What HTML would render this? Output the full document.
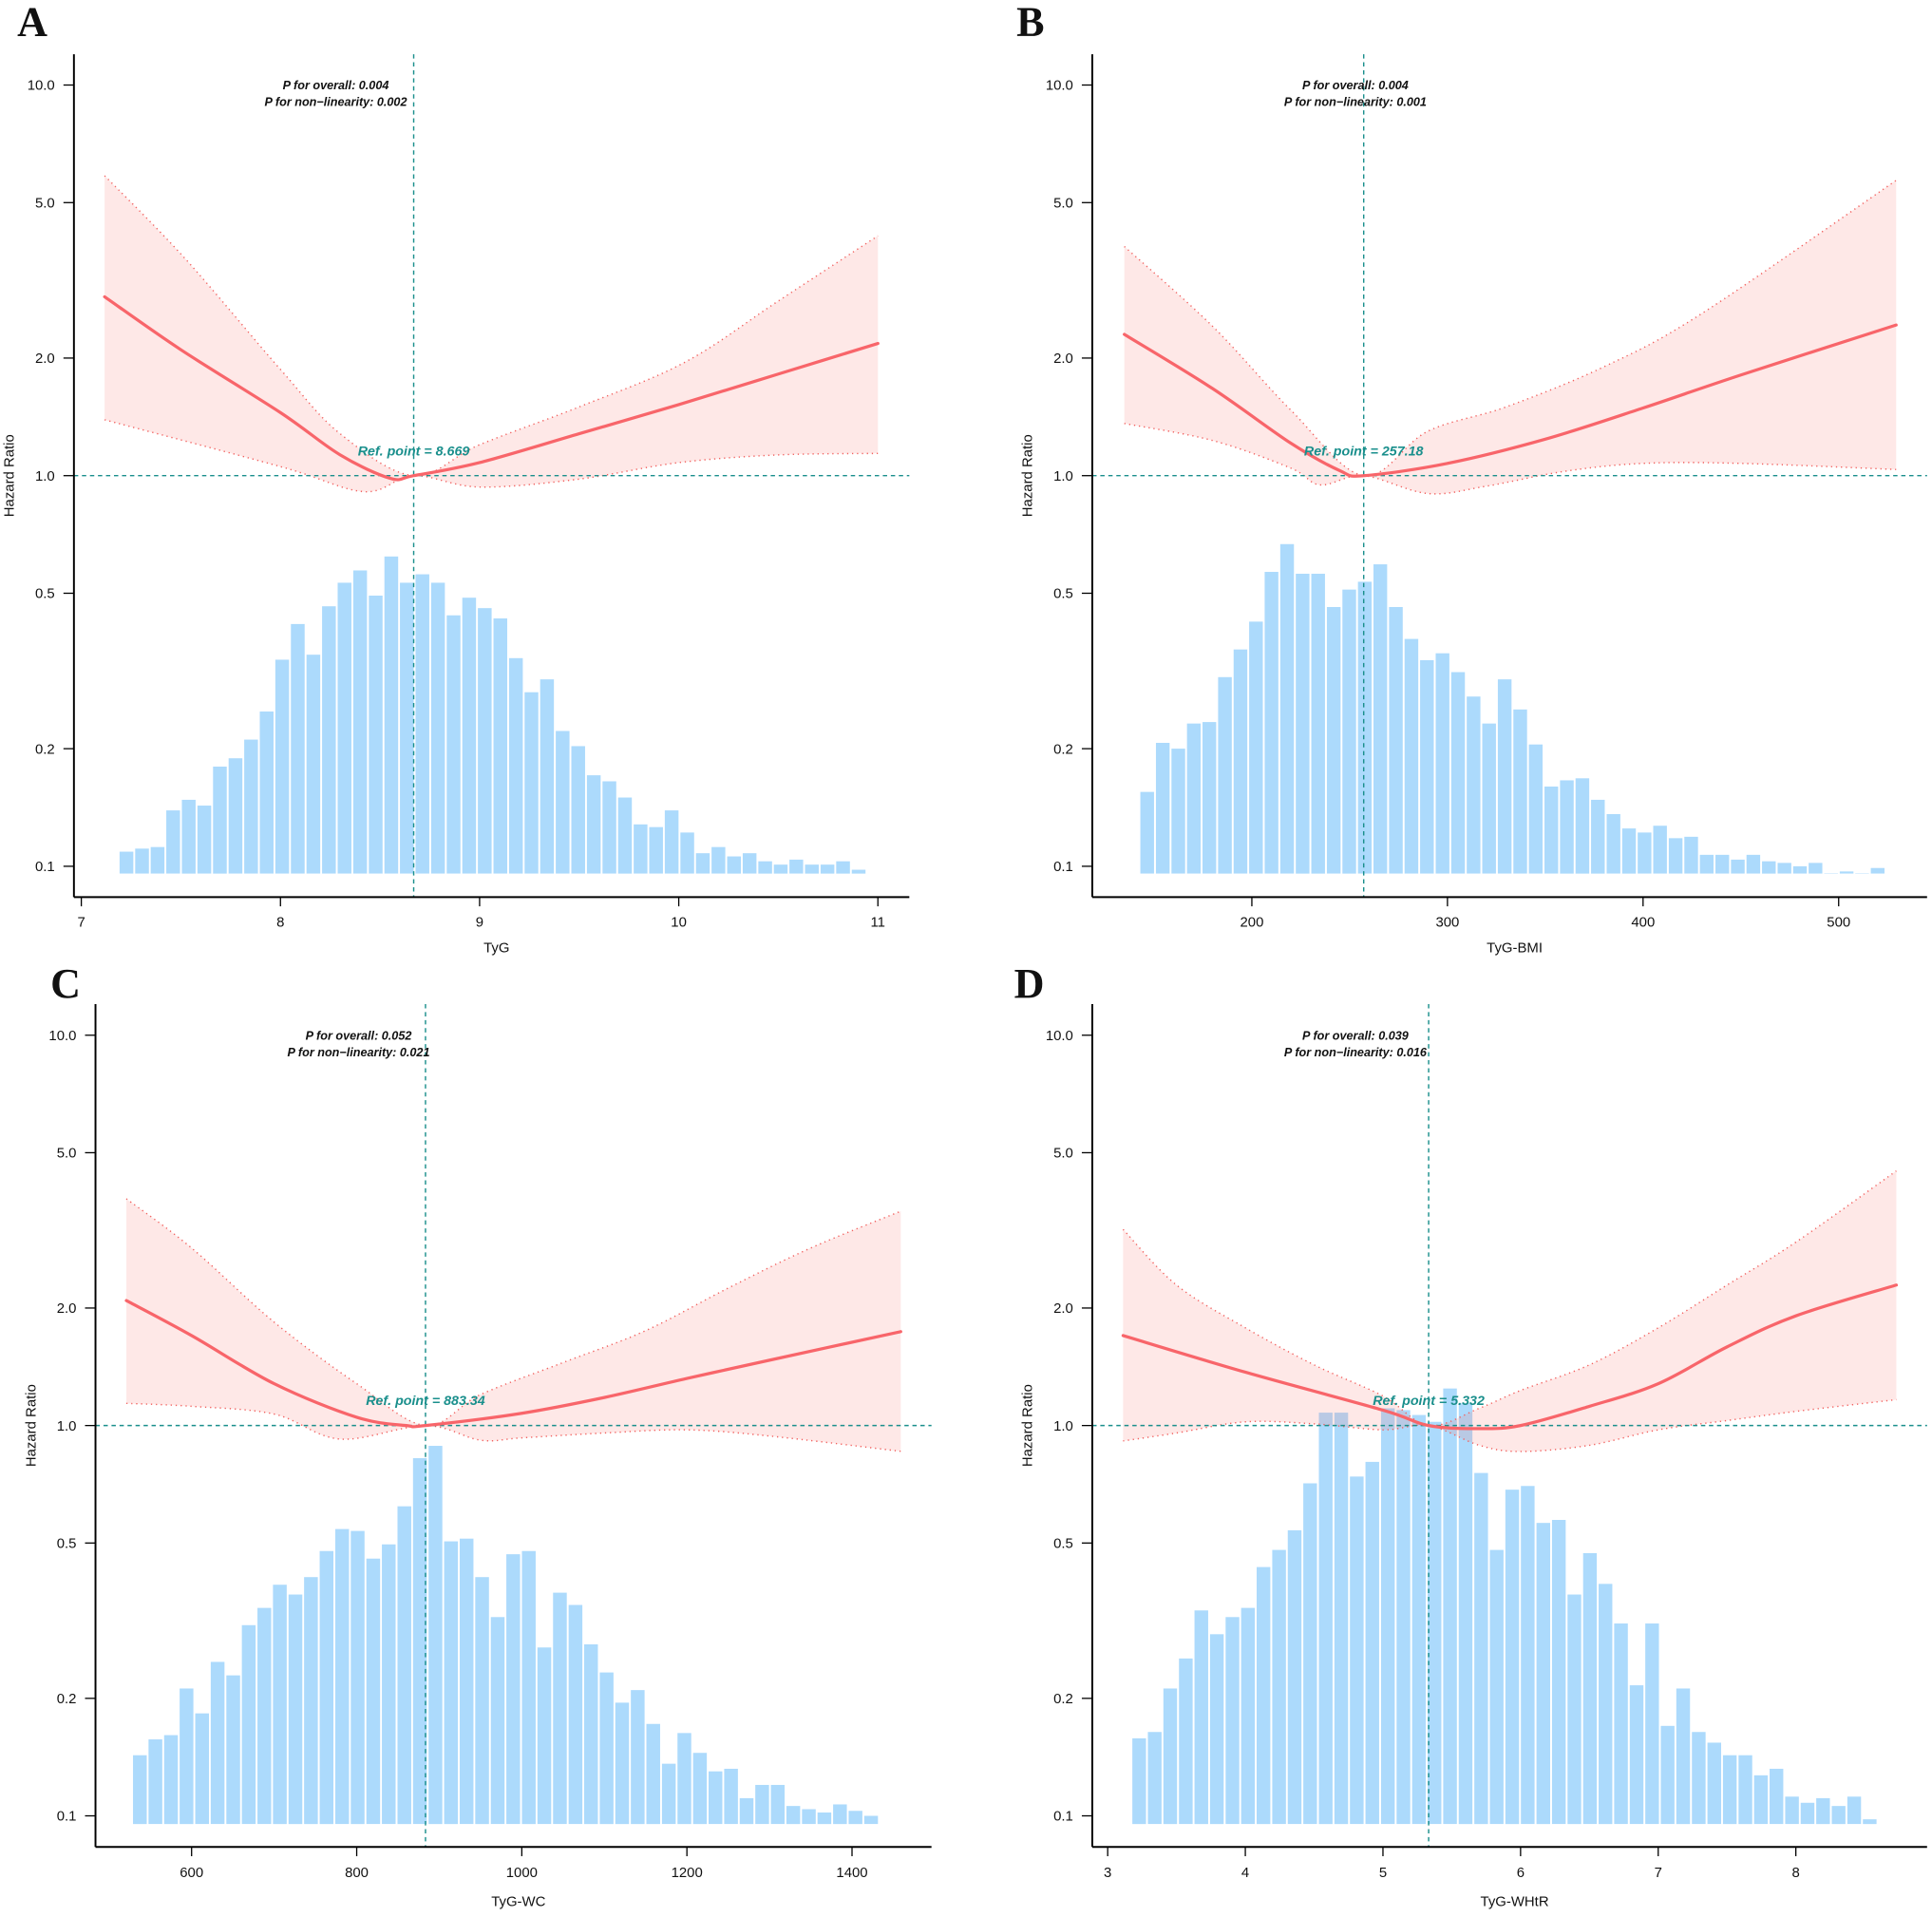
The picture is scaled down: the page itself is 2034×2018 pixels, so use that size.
<!DOCTYPE html>
<html><head><meta charset="utf-8"><style>
html,body{margin:0;padding:0;background:#fff}
svg{display:block}
text{font-family:"Liberation Sans",Arial,sans-serif}
text.letter{font-family:"Liberation Serif","DejaVu Serif",serif;font-weight:bold}
</style></head><body>
<svg id="fig" width="2034" height="2018" viewBox="0 0 2034 2018" xmlns="http://www.w3.org/2000/svg"></svg>
<script>
// ---- Panel A (TyG) ----
const aCurveX = [7.117, 7.5, 8.0, 8.3, 8.55, 8.669, 9.0, 9.5, 10.0, 10.5, 11.0];
const aCurveHR = [2.87, 2.1, 1.45, 1.13, 0.985, 1.0, 1.08, 1.28, 1.52, 1.82, 2.18];
const aUpperX = [7.117, 7.52, 8.0, 8.3, 8.669, 9.0, 9.5, 10.03, 10.5, 11.0];
const aUpperHR = [5.86, 3.6, 1.87, 1.28, 1.0, 1.2, 1.5, 1.95, 2.8, 4.11];
const aLowerX = [7.117, 8.0, 8.42, 8.669, 9.0, 9.5, 10.0, 10.5, 11.0];
const aLowerHR = [1.39, 1.055, 0.91, 1.0, 0.935, 0.98, 1.08, 1.13, 1.14];
const aBars = [0.109,0.111,0.112,0.139,0.148,0.143,0.180,0.189,0.211,0.249,0.338,0.417,0.348,0.463,0.532,0.572,0.493,0.621,0.532,0.559,0.532,0.439,0.487,0.458,0.431,0.341,0.279,0.301,0.222,0.203,0.171,0.165,0.150,0.128,0.126,0.139,0.122,0.108,0.112,0.106,0.108,0.103,0.101,0.104,0.101,0.101,0.103,0.098];
const aXTicks = [7, 8, 9, 10, 11];
// ---- Panel B (TyG-BMI) ----
const bCurveX = [134.8, 180, 220, 245, 257.18, 300, 350, 400, 450, 529.4];
const bCurveHR = [2.30, 1.67, 1.21, 1.03, 1.0, 1.075, 1.24, 1.49, 1.81, 2.43];
const bUpperX = [134.8, 180, 220, 257.18, 290, 330, 380, 430, 529.4];
const bUpperHR = [3.86, 2.41, 1.47, 1.0, 1.3, 1.5, 1.9, 2.6, 5.7];
const bLowerX = [134.8, 180, 220, 235, 257.18, 290, 320, 360, 400, 450, 529.4];
const bLowerHR = [1.36, 1.23, 1.045, 0.947, 1.0, 0.90, 0.94, 1.026, 1.075, 1.075, 1.037];
const bBars = [0.155,0.207,0.200,0.232,0.234,0.305,0.359,0.423,0.567,0.668,0.561,0.561,0.461,0.511,0.535,0.593,0.461,0.382,0.337,0.351,0.314,0.272,0.232,0.301,0.252,0.205,0.160,0.166,0.168,0.148,0.136,0.125,0.122,0.127,0.118,0.119,0.107,0.107,0.104,0.107,0.103,0.102,0.100,0.102,0.096,0.097,0.096,0.099];
const bXTicks = [200, 300, 400, 500];
// ---- Panel C (TyG-WC) ----
const cCurveX = [521, 600, 700, 800, 860, 883.34, 1000, 1100, 1200, 1300, 1459];
const cCurveHR = [2.09, 1.70, 1.28, 1.05, 1.0, 1.0, 1.075, 1.18, 1.32, 1.47, 1.74];
const cUpperX = [521, 600, 700, 800, 883.34, 950, 1050, 1150, 1250, 1350, 1459];
const cUpperHR = [3.81, 2.85, 1.84, 1.28, 1.0, 1.2, 1.45, 1.75, 2.25, 2.85, 3.54];
const cLowerX = [521, 600, 700, 780, 883.34, 950, 1000, 1100, 1200, 1300, 1459];
const cLowerHR = [1.14, 1.12, 1.07, 0.923, 1.0, 0.917, 0.93, 0.957, 0.975, 0.94, 0.859];
const cBars = [0.143,0.157,0.161,0.212,0.183,0.248,0.229,0.308,0.341,0.391,0.369,0.409,0.477,0.543,0.537,0.456,0.496,0.621,0.825,0.887,0.505,0.513,0.409,0.323,0.468,0.477,0.270,0.373,0.347,0.275,0.233,0.195,0.210,0.172,0.136,0.163,0.145,0.130,0.132,0.111,0.120,0.120,0.106,0.104,0.102,0.107,0.103,0.100];
const cXTicks = [600, 800, 1000, 1200, 1400];
// ---- Panel D (TyG-WHtR) ----
const dCurveX = [3.112, 4, 5, 5.332, 5.7, 6, 6.5, 7, 7.5, 8, 8.73];
const dCurveHR = [1.70, 1.37, 1.095, 1.0, 0.982, 1.0, 1.12, 1.28, 1.59, 1.91, 2.29];
const dUpperX = [3.112, 3.5, 4, 4.5, 5, 5.332, 5.7, 6, 6.5, 7, 7.5, 8, 8.73];
const dUpperHR = [3.18, 2.29, 1.78, 1.43, 1.19, 1.0, 1.107, 1.23, 1.43, 1.78, 2.29, 2.95, 4.49];
const dLowerX = [3.112, 3.5, 4, 4.5, 5, 5.332, 5.7, 6, 6.5, 7, 7.5, 8, 8.73];
const dLowerHR = [0.913, 0.957, 1.022, 1.01, 0.975, 1.0, 0.89, 0.858, 0.89, 0.975, 1.03, 1.087, 1.165];
const dBars = [0.158,0.164,0.212,0.253,0.336,0.292,0.323,0.341,0.434,0.480,0.539,0.711,1.079,1.079,0.740,0.807,1.107,1.095,1.064,1.022,1.244,1.140,0.756,0.480,0.685,0.700,0.563,0.573,0.369,0.471,0.393,0.311,0.216,0.311,0.170,0.212,0.164,0.154,0.143,0.143,0.127,0.132,0.112,0.108,0.111,0.106,0.112,0.098];
const dXTicks = [3, 4, 5, 6, 7, 8];

const yTicks = [0.1, 0.2, 0.5, 1.0, 2.0, 5.0, 10.0];
const yTickLabels = ["0.1", "0.2", "0.5", "1.0", "2.0", "5.0", "10.0"];

const NS = "http://www.w3.org/2000/svg";
const svg = document.getElementById("fig");
function mk(tag, attrs, parent) {
  const e = document.createElementNS(NS, tag);
  for (const k in attrs) e.setAttribute(k, attrs[k]);
  parent.appendChild(e);
  return e;
}
function smoothPath(pts, move) {
  let d = (move ? "M" : "L") + pts[0][0].toFixed(1) + "," + pts[0][1].toFixed(1);
  for (let i = 0; i < pts.length - 1; i++) {
    const p0 = pts[i - 1] || pts[i], p1 = pts[i], p2 = pts[i + 1], p3 = pts[i + 2] || pts[i + 1];
    const c1 = [p1[0] + (p2[0] - p0[0]) / 6, p1[1] + (p2[1] - p0[1]) / 6];
    const c2 = [p2[0] - (p3[0] - p1[0]) / 6, p2[1] - (p3[1] - p1[1]) / 6];
    d += "C" + c1[0].toFixed(1) + "," + c1[1].toFixed(1) + " " + c2[0].toFixed(1) + "," + c2[1].toFixed(1) + " " + p2[0].toFixed(1) + "," + p2[1].toFixed(1);
  }
  return d;
}

const panels = [
  {id:"a", letter:"A", ox:0, oy:0, axX:120, top:88, bottom:1456, right:1476, y1:772, dec:634,
   xv0:7, xp0:132, ppu:323.25, xTicks:aXTicks, title:"TyG", titleY:1538, xlabY:1496, hrX:14, pX:545, pY:145,
   refX:8.669, refLabel:"Ref. point = 8.669", refY:739, letterX:28, letterY:58,
   pO:"P for overall: 0.004", pN:"P for non\u2212linearity: 0.002",
   cx:aCurveX, ch:aCurveHR, ux:aUpperX, uh:aUpperHR, lx:aLowerX, lh:aLowerHR, bars:aBars, barStart:7.192, barEnd:10.947, barBase:0.0958},
  {id:"b", letter:"B", ox:1017, oy:0, axX:205, top:88, bottom:1456, right:1560, y1:772, dec:634,
   xv0:200, xp0:464, ppu:3.175, xTicks:bXTicks, title:"TyG-BMI", titleY:1538, xlabY:1496, hrX:99, pX:632, pY:145,
   refX:257.18, refLabel:"Ref. point = 257.18", refY:739, letterX:82, letterY:58,
   pO:"P for overall: 0.004", pN:"P for non\u2212linearity: 0.001",
   cx:bCurveX, ch:bCurveHR, ux:bUpperX, uh:bUpperHR, lx:bLowerX, lh:bLowerHR, bars:bBars, barStart:143, barEnd:524.4, barBase:0.0958},
  {id:"c", letter:"C", ox:0, oy:1009, axX:155, top:74, bottom:1442, right:1512, y1:758, dec:633.5,
   xv0:600, xp0:311, ppu:1.34, xTicks:cXTicks, title:"TyG-WC", titleY:1530, xlabY:1483, hrX:50, pX:582, pY:132,
   refX:883.34, refLabel:"Ref. point = 883.34", refY:725, letterX:82, letterY:63,
   pO:"P for overall: 0.052", pN:"P for non\u2212linearity: 0.021",
   cx:cCurveX, ch:cCurveHR, ux:cUpperX, uh:cUpperHR, lx:cLowerX, lh:cLowerHR, bars:cBars, barStart:529, barEnd:1433.6, barBase:0.0953},
  {id:"d", letter:"D", ox:1017, oy:1009, axX:205, top:74, bottom:1442, right:1560, y1:758, dec:633.5,
   xv0:3, xp0:230, ppu:223.4, xTicks:dXTicks, title:"TyG-WHtR", titleY:1530, xlabY:1483, hrX:99, pX:632, pY:132,
   refX:5.332, refLabel:"Ref. point = 5.332", refY:725, letterX:78, letterY:63,
   pO:"P for overall: 0.039", pN:"P for non\u2212linearity: 0.016",
   cx:dCurveX, ch:dCurveHR, ux:dUpperX, uh:dUpperHR, lx:dLowerX, lh:dLowerHR, bars:dBars, barStart:3.179, barEnd:8.6, barBase:0.0953}
];

const K = 1 / 1.5418;
const TEAL = "#1a8f8c";
panels.forEach(p => {
  const g = mk("g", {transform:`translate(${p.ox},${p.oy}) scale(${K})`}, svg);
  
  
  const xs = v => p.xp0 + (v - p.xv0) * p.ppu;
  const ys = v => p.y1 - Math.log10(v) * p.dec;

  const L = mk("text", {x:p.letterX, y:p.letterY, "class":"letter", "font-size":68, fill:"#111"}, g);
  L.textContent = p.letter;
  
  

  const bg = mk("g", {}, g);
  
  
  const n = p.bars.length, w = (p.barEnd - p.barStart) / n;
  p.bars.forEach((v, i) => {
    const x0 = xs(p.barStart + i * w), x1 = xs(p.barStart + (i + 1) * w);
    const yt = ys(v), yb = ys(p.barBase);
    const r = mk("rect", {x:x0.toFixed(1), y:yt.toFixed(1), width:Math.max(0, x1 - x0 - 3).toFixed(1), height:Math.max(0, yb - yt).toFixed(1), fill:"#acdafc"}, bg);
    
    
  });

  const up = p.ux.map((x, i) => [xs(x), ys(p.uh[i])]);
  const lo = p.lx.map((x, i) => [xs(x), ys(p.lh[i])]);
  const band = mk("path", {d: smoothPath(up, true) + smoothPath(lo.slice().reverse(), false) + "Z", fill:"rgba(250,120,110,0.17)", stroke:"none"}, g);
  
  
  const ul = mk("path", {d: smoothPath(up, true), fill:"none", stroke:"#f2615f", "stroke-width":2.2, "stroke-dasharray":"2 6"}, g);
  
  
  const ll = mk("path", {d: smoothPath(lo, true), fill:"none", stroke:"#f2615f", "stroke-width":2.2, "stroke-dasharray":"2 6"}, g);
  
  

  const rx = xs(p.refX);
  const hl = mk("line", {x1:p.axX, x2:p.right, y1:ys(1), y2:ys(1), stroke:TEAL, "stroke-width":2.2, "stroke-dasharray":"7 6"}, g);
  
  
  const vl = mk("line", {x1:rx, x2:rx, y1:p.top, y2:p.bottom, stroke:TEAL, "stroke-width":2.2, "stroke-dasharray":"7 6"}, g);
  
  

  const cp = p.cx.map((x, i) => [xs(x), ys(p.ch[i])]);
  const fc = mk("path", {d: smoothPath(cp, true), fill:"none", stroke:"#f8656a", "stroke-width":5, "stroke-linecap":"round"}, g);
  
  

  const ya = mk("line", {x1:p.axX, x2:p.axX, y1:p.top, y2:p.bottom, stroke:"#000", "stroke-width":3}, g);
  
  
  const xa = mk("line", {x1:p.axX, x2:p.right, y1:p.bottom, y2:p.bottom, stroke:"#000", "stroke-width":3}, g);
  
  
  yTicks.forEach((t, i) => {
    const y = ys(t);
    mk("line", {x1:p.axX - 17, x2:p.axX, y1:y, y2:y, stroke:"#000", "stroke-width":2}, g);
    const tl = mk("text", {x:p.axX - 31, y:y + 8, "text-anchor":"end", "font-size":23, fill:"#111"}, g);
    tl.textContent = yTickLabels[i];
    
    
  });
  p.xTicks.forEach(t => {
    const x = xs(t);
    mk("line", {x1:x, x2:x, y1:p.bottom, y2:p.bottom + 15, stroke:"#000", "stroke-width":2}, g);
    const tl = mk("text", {x:x, y:p.xlabY + 8, "text-anchor":"middle", "font-size":23, fill:"#111"}, g);
    tl.textContent = String(t);
    
    
  });
  const xt = mk("text", {x:(p.axX + p.right) / 2 + 8, y:p.titleY + 8, "text-anchor":"middle", "font-size":23, fill:"#111"}, g);
  xt.textContent = p.title;
  
  
  const yt = mk("text", {x:0, y:0, transform:`translate(${p.hrX + 8},${ys(1)}) rotate(-90)`, "text-anchor":"middle", "font-size":23, fill:"#111"}, g);
  yt.textContent = "Hazard Ratio";
  
  

  const t1 = mk("text", {x:p.pX, y:p.pY, "text-anchor":"middle", "font-size":19.5, "font-weight":"bold", "font-style":"italic", fill:"#111"}, g);
  t1.textContent = p.pO;
  
  
  const t2 = mk("text", {x:p.pX, y:p.pY + 27, "text-anchor":"middle", "font-size":19.5, "font-weight":"bold", "font-style":"italic", fill:"#111"}, g);
  t2.textContent = p.pN;
  
  
  const rt = mk("text", {x:rx, y:p.refY, "text-anchor":"middle", "font-size":22, "font-weight":"bold", "font-style":"italic", fill:TEAL}, g);
  rt.textContent = p.refLabel;
  
  
});
</script>
</body></html>
